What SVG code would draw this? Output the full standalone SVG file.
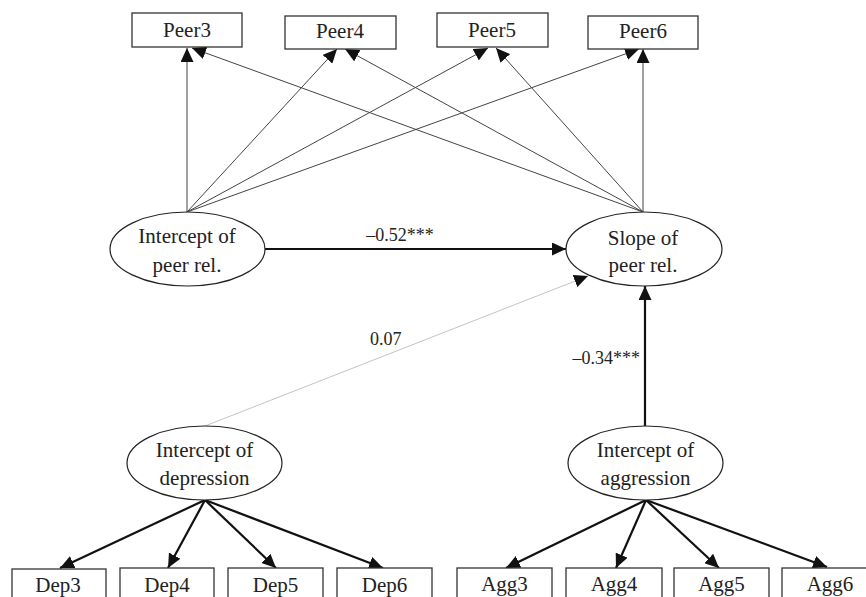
<svg xmlns="http://www.w3.org/2000/svg" width="866" height="597" viewBox="0 0 866 597">
<style>
.box{fill:#fff;stroke:#333;stroke-width:1.3}
.ell{fill:#fff;stroke:#222;stroke-width:1.2}
.t{font-family:"Liberation Serif","Times New Roman",serif;font-size:21px;fill:#222;text-anchor:middle}
.lab{font-family:"Liberation Serif","Times New Roman",serif;font-size:18px;fill:#222}
.thin{stroke:#444;stroke-width:1;fill:none;marker-end:url(#ah)}
.thick{stroke:#111;stroke-width:2.2;fill:none;marker-end:url(#ah)}
.faint{stroke:#c4c4c4;stroke-width:1;fill:none;marker-end:url(#ah)}
</style>
<defs>
<marker id="ah" markerUnits="userSpaceOnUse" markerWidth="15" markerHeight="13" refX="14" refY="6.5" orient="auto">
<path d="M0,0 L14,6.5 L0,13 z" fill="#111"/>
</marker>
</defs>
<rect width="866" height="597" fill="#fff"/>
<g id="connectors">
<line class="thin" x1="187" y1="212" x2="187" y2="48"/>
<line class="thin" x1="187" y1="212" x2="337" y2="49"/>
<line class="thin" x1="187" y1="212" x2="488" y2="48"/>
<line class="thin" x1="187" y1="212" x2="639" y2="49"/>
<line class="thin" x1="643" y1="212" x2="192" y2="48"/>
<line class="thin" x1="643" y1="212" x2="345" y2="49"/>
<line class="thin" x1="643" y1="212" x2="496" y2="48"/>
<line class="thin" x1="643" y1="212" x2="643" y2="49"/>
<line class="thick" x1="265" y1="249" x2="566" y2="249"/>
<line class="faint" x1="205" y1="426" x2="588" y2="276"/>
<line class="thick" x1="645" y1="426" x2="645" y2="286"/>
<line class="thick" x1="205" y1="500" x2="60" y2="568"/>
<line class="thick" x1="205" y1="500" x2="168" y2="568"/>
<line class="thick" x1="205" y1="500" x2="276" y2="568"/>
<line class="thick" x1="205" y1="500" x2="383" y2="568"/>
<line class="thick" x1="646" y1="500" x2="506" y2="568"/>
<line class="thick" x1="646" y1="500" x2="616" y2="568"/>
<line class="thick" x1="646" y1="500" x2="719" y2="568"/>
<line class="thick" x1="646" y1="500" x2="827" y2="567"/>
<text class="lab" x="400" y="241" text-anchor="middle">–0.52***</text>
<text class="lab" x="370" y="345">0.07</text>
<text class="lab" x="640" y="364" text-anchor="end">–0.34***</text>
</g>
<g id="peer3"><rect class="box" x="132" y="13" width="110" height="34"/><text class="t" x="187" y="37">Peer3</text></g>
<g id="peer4"><rect class="box" x="285" y="16" width="111" height="33"/><text class="t" x="340" y="38">Peer4</text></g>
<g id="peer5"><rect class="box" x="437" y="13" width="111" height="34"/><text class="t" x="492" y="37">Peer5</text></g>
<g id="peer6"><rect class="box" x="588" y="16" width="110" height="33"/><text class="t" x="643" y="38">Peer6</text></g>
<g id="intercept-peer"><ellipse class="ell" cx="187.5" cy="249" rx="77.5" ry="37"/><text class="t" x="187" y="243">Intercept of</text><text class="t" x="187" y="272">peer rel.</text></g>
<g id="slope-peer"><ellipse class="ell" cx="644" cy="249" rx="78" ry="37"/><text class="t" x="643" y="245">Slope of</text><text class="t" x="643" y="272">peer rel.</text></g>
<g id="intercept-dep"><ellipse class="ell" cx="204.5" cy="463" rx="77.5" ry="37"/><text class="t" x="204.5" y="457">Intercept of</text><text class="t" x="204.5" y="485">depression</text></g>
<g id="intercept-agg"><ellipse class="ell" cx="645.5" cy="463" rx="77.5" ry="37"/><text class="t" x="645.5" y="457">Intercept of</text><text class="t" x="645.5" y="485">aggression</text></g>
<g id="dep3"><rect class="box" x="12" y="569" width="94" height="40"/><text class="t" x="58" y="592">Dep3</text></g>
<g id="dep4"><rect class="box" x="120" y="568" width="94" height="40"/><text class="t" x="167" y="592">Dep4</text></g>
<g id="dep5"><rect class="box" x="228" y="568" width="95" height="40"/><text class="t" x="275.5" y="592">Dep5</text></g>
<g id="dep6"><rect class="box" x="337" y="568" width="95" height="40"/><text class="t" x="384.5" y="592">Dep6</text></g>
<g id="agg3"><rect class="box" x="457" y="568" width="95" height="40"/><text class="t" x="504.5" y="591">Agg3</text></g>
<g id="agg4"><rect class="box" x="566" y="568" width="96" height="40"/><text class="t" x="614" y="591">Agg4</text></g>
<g id="agg5"><rect class="box" x="674" y="568" width="95" height="40"/><text class="t" x="721.5" y="591">Agg5</text></g>
<g id="agg6"><rect class="box" x="782" y="568" width="100" height="40"/><text class="t" x="830" y="591">Agg6</text></g>
</svg>
